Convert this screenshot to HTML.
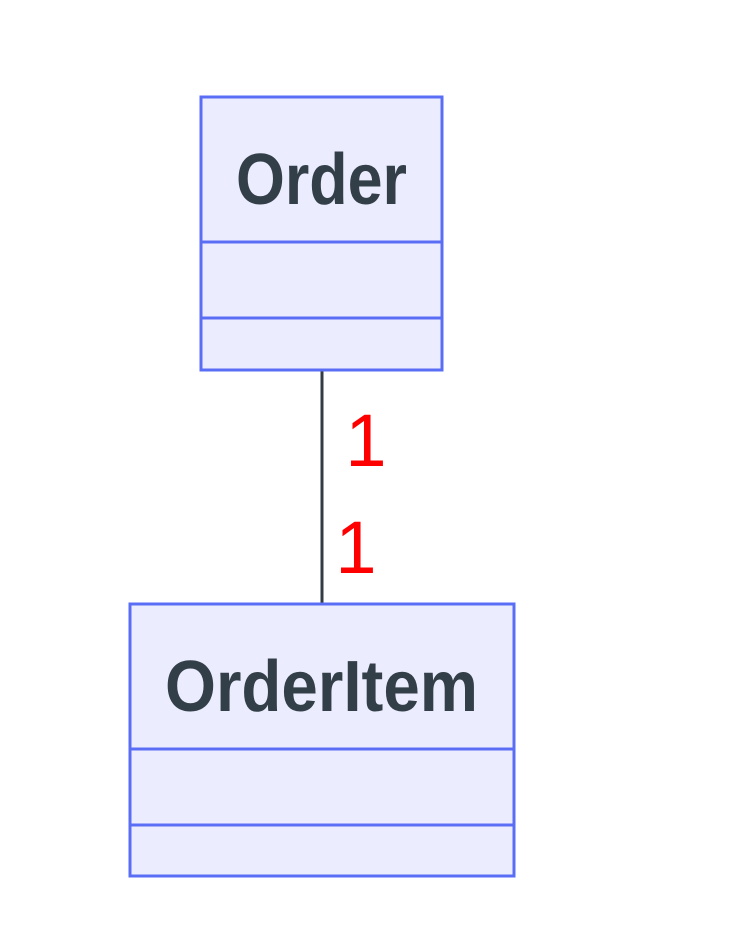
<!DOCTYPE html>
<html><head><meta charset="utf-8"><style>
html,body{margin:0;padding:0;background:#fff;width:756px;height:930px;overflow:hidden}
</style></head><body>
<svg width="756" height="930" viewBox="0 0 756 930" xmlns="http://www.w3.org/2000/svg">
<line x1="322" y1="370" x2="322" y2="604" stroke="#333c44" stroke-width="3"/>
<rect x="201" y="97" width="241" height="273" fill="#ececff" stroke="#5a6ef5" stroke-width="3"/>
<line x1="201" y1="242" x2="442" y2="242" stroke="#5a6ef5" stroke-width="3"/>
<line x1="201" y1="318" x2="442" y2="318" stroke="#5a6ef5" stroke-width="3"/>
<text x="236" y="204" textLength="171" lengthAdjust="spacingAndGlyphs" font-family="Liberation Sans, sans-serif" font-weight="bold" font-size="72" fill="#333f48">Order</text>
<rect x="130" y="604" width="384" height="272" fill="#ececff" stroke="#5a6ef5" stroke-width="3"/>
<line x1="130" y1="749" x2="514" y2="749" stroke="#5a6ef5" stroke-width="3"/>
<line x1="130" y1="825" x2="514" y2="825" stroke="#5a6ef5" stroke-width="3"/>
<text x="165" y="711" textLength="313" lengthAdjust="spacingAndGlyphs" font-family="Liberation Sans, sans-serif" font-weight="bold" font-size="72" fill="#333f48">OrderItem</text>
<text x="366" y="466" text-anchor="middle" font-family="Liberation Sans, sans-serif" font-size="74" fill="#ff0000">1</text>
<text x="356" y="573" text-anchor="middle" font-family="Liberation Sans, sans-serif" font-size="74" fill="#ff0000">1</text>
</svg>
</body></html>
